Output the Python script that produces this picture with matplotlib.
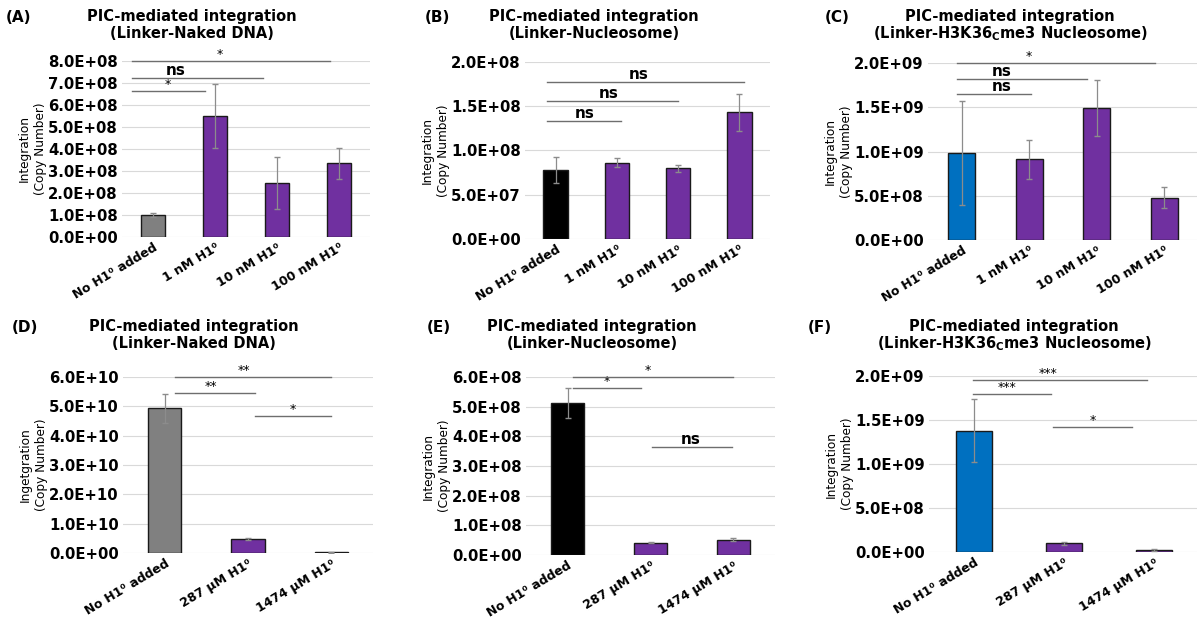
import numpy as np
import matplotlib.pyplot as plt
from matplotlib.ticker import FuncFormatter

# Kategorier
cats_nm = ['No H1⁰ added', '1 nM H1⁰', '10 nM H1⁰', '100 nM H1⁰']
cats_um = ['No H1⁰ added', '287 μM H1⁰', '1474 μM H1⁰']

# Värden och felstaplar
a_vals = [1.0e8, 5.5e8, 2.45e8, 3.35e8]
a_err = [0.1e8, 1.45e8, 1.2e8, 0.7e8]
b_vals = [7.8e7, 8.6e7, 8.0e7, 1.43e8]
b_err = [1.5e7, 0.5e7, 0.4e7, 2.1e7]
c_vals = [9.8e8, 9.1e8, 1.49e9, 4.8e8]
c_err = [5.9e8, 2.2e8, 3.2e8, 1.2e8]
d_vals = [4.93e10, 4.8e9, 2.0e8]
d_err = [0.5e10, 0.4e9, 0.5e8]
e_vals = [5.12e8, 4.2e7, 5.2e7]
e_err = [0.5e8, 3e6, 4e6]
f_vals = [1.38e9, 1.0e8, 2.5e7]
f_err = [3.6e8, 1.5e7, 1.0e7]

# Signifikansstreck: (x0, x1, y, text, text_x)
a_sig = [(-0.34, 2.85, 8.0e8, '*', 1.08), (-0.34, 1.77, 7.24e8, 'ns', 0.37), (-0.34, 0.84, 6.65e8, '*', 0.24)]
b_sig = [(-0.14, 3.07, 1.774e8, 'ns', 1.35), (-0.14, 1.99, 1.563e8, 'ns', 0.87), (-0.14, 1.06, 1.337e8, 'ns', 0.47)]
c_sig = [(-0.07, 2.86, 2.0e9, '*', 1.0), (-0.07, 1.85, 1.82e9, 'ns', 0.59), (-0.07, 1.02, 1.646e9, 'ns', 0.59)]
d_sig = [(0.12, 2.0, 6.0e10, '**', 0.95), (0.12, 1.08, 5.45e10, '**', 0.55), (1.08, 2.0, 4.67e10, '*', 1.54)]
e_sig = [(0.07, 1.99, 6.0e8, '*', 0.97), (0.07, 0.89, 5.64e8, '*', 0.47), (1.02, 1.98, 3.65e8, 'ns', 1.48)]
f_sig = [(-0.01, 1.92, 1.96e9, '***', 0.82), (-0.01, 0.85, 1.79e9, '***', 0.37), (0.88, 1.75, 1.42e9, '*', 1.32)]

grey, black, blue, purple = '#808080', '#000000', '#0070C0', '#7030A0'

panels = [
    # (bokstav, undertitel, kategorier, värden, fel, färger, ymax, steg, ylabel, sig, axes-rect px, titel-x px)
    ('(A)', '(Linker-Naked DNA)', cats_nm, a_vals, a_err, [grey] + [purple] * 3, 8e8, 1e8,
     'Integration\n(Copy Number)', a_sig, (122, 61, 370, 237), 192),
    ('(B)', '(Linker-Nucleosome)', cats_nm, b_vals, b_err, [black] + [purple] * 3, 2e8, 5e7,
     'Integration\n(Copy Number)', b_sig, (525, 62, 770, 239), 594),
    ('(C)', '(Linker-H3K36$_\\mathbf{C}$me3 Nucleosome)', cats_nm, c_vals, c_err, [blue] + [purple] * 3, 2e9, 5e8,
     'Integration\n(Copy Number)', c_sig, (928, 63, 1198, 240), 1010),
    ('(D)', '(Linker-Naked DNA)', cats_um, d_vals, d_err, [grey] + [purple] * 2, 6e10, 1e10,
     'Ingetgration\n(Copy Number)', d_sig, (123, 377, 373, 553), 194),
    ('(E)', '(Linker-Nucleosome)', cats_um, e_vals, e_err, [black] + [purple] * 2, 6e8, 1e8,
     'Integration\n(Copy Number)', e_sig, (526, 377, 775, 555), 592),
    ('(F)', '(Linker-H3K36$_\\mathbf{C}$me3 Nucleosome)', cats_um, f_vals, f_err, [blue] + [purple] * 2, 2e9, 5e8,
     'Integration\n(Copy Number)', f_sig, (929, 376, 1199, 552), 1014),
]

W, H = 1197, 623
fig = plt.figure(figsize=(W / 100, H / 100), dpi=100)
plt.rcParams['font.family'] = ['DejaVu Sans']

fmt = FuncFormatter(lambda v, p: f'{v:.1E}')

for letter, sub, cats, vals, errs, cols, ymax, step, ylab, sig, (x0, y0, x1, y1), tx in panels:
    ax = fig.add_axes([x0 / W, 1 - y1 / H, (x1 - x0) / W, (y1 - y0) / H])
    x = np.arange(len(cats))
    ax.bar(x, vals, width=0.4, color=cols, edgecolor='#1a1a1a', linewidth=1, zorder=3)
    ax.errorbar(x, vals, yerr=errs, fmt='none', ecolor='#8c8c8c', elinewidth=0.9, capsize=2, zorder=4)
    ax.set_xlim(-0.5, len(cats) - 0.5)
    ax.set_ylim(0, ymax)
    ax.set_yticks(np.arange(0, ymax + step / 2, step))
    ax.yaxis.set_major_formatter(fmt)
    ax.grid(axis='y', color='#d9d9d9', linewidth=0.8, zorder=0)
    ax.set_axisbelow(True)
    for s in ax.spines.values():
        s.set_visible(False)
    ax.tick_params(length=0, labelsize=10.7, pad=3)
    for lab in ax.get_yticklabels():
        lab.set_fontweight('bold')
    ax.set_xticks(x)
    ax.set_xticklabels(cats, rotation=31, ha='right', rotation_mode='anchor', fontsize=9, fontweight='bold')
    ax.set_ylabel(ylab, fontsize=8.7, linespacing=1.3, labelpad=1)

    for sx0, sx1, sy, txt, stx in sig:
        ax.plot([sx0, sx1], [sy, sy], color='#6e6e6e', lw=1, clip_on=False, zorder=5)
        if txt == 'ns':
            ax.text(stx, sy, txt, ha='center', va='bottom', fontsize=11, fontweight='bold')
        else:
            ax.text(stx, sy, txt, ha='center', va='bottom', fontsize=9)

    # titel och panelbokstav
    base = 0 if y0 < 300 else 310
    fig.text(tx / W, 1 - (base + 17) / H, 'PIC-mediated integration', ha='center', va='center',
             fontsize=10.5, fontweight='bold')
    fig.text(tx / W, 1 - (base + 34) / H, sub, ha='center', va='center', fontsize=10.5, fontweight='bold')
    lx = {'(A)': 6, '(B)': 425, '(C)': 825, '(D)': 12, '(E)': 427, '(F)': 808}[letter]
    fig.text(lx / W, 1 - (base + 17) / H, letter, ha='left', va='center', fontsize=11, fontweight='bold')

fig.savefig('out.png', dpi=100)
